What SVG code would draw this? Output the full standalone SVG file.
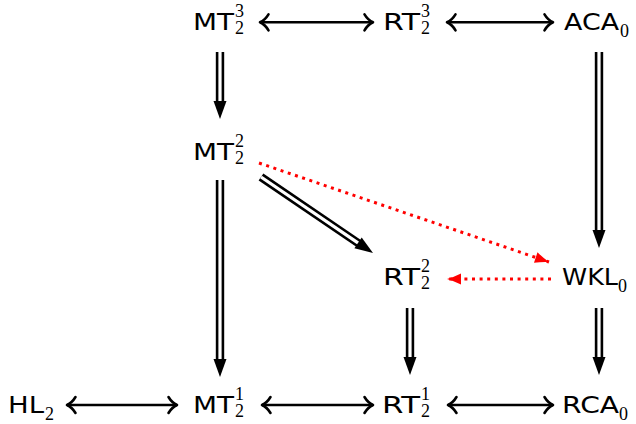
<svg xmlns="http://www.w3.org/2000/svg" width="636" height="424" viewBox="0 0 636 424">
  <style>
    .lbl { font-family: "DejaVu Sans", "Liberation Sans", sans-serif; font-size: 23.5px; fill: #000; }
    .scr { font-family: "Liberation Serif", "DejaVu Serif", serif; font-size: 18px; fill: #000; }
    .bi { stroke: #000; stroke-width: 2.5; fill: none; marker-start: url(#to); marker-end: url(#to); }
    .shaft-o { stroke: #000; stroke-width: 8.4; fill: none; }
    .shaft-i { stroke: #fff; stroke-width: 3.2; fill: none; }
    .head { fill: #000; }
    .dot { stroke: #ff0000; stroke-width: 3; stroke-dasharray: 3 4.6; fill: none; marker-end: url(#redhead); }
  </style>
  <defs>
    <marker id="to" markerUnits="userSpaceOnUse" viewBox="-12 -10 14 20" markerWidth="14" markerHeight="20" refX="0" refY="0" orient="auto-start-reverse" overflow="visible">
      <path d="M-8.5,-8 Q-5,-2.2 0,0 Q-5,2.2 -8.5,8" fill="none" stroke="#000" stroke-width="2.6" stroke-linecap="round" stroke-linejoin="round"/>
    </marker>
    <marker id="redhead" markerUnits="userSpaceOnUse" viewBox="-16 -8 18 16" markerWidth="18" markerHeight="16" refX="0" refY="0" orient="auto" overflow="visible">
      <path d="M0,0 Q-7,-2 -14,-5.5 L-14,5.5 Q-7,2 0,0 Z" fill="#ff0000"/>
    </marker>
  </defs>

  <!-- row 1 -->
  <g id="MT23">
    <text class="lbl" x="193" y="29.5" textLength="41" lengthAdjust="spacingAndGlyphs">MT</text>
    <text class="scr" x="235" y="16.5">3</text>
    <text class="scr" x="235" y="33.5">2</text>
  </g>
  <g id="RT23">
    <text class="lbl" x="383" y="29.5" textLength="37" lengthAdjust="spacingAndGlyphs">RT</text>
    <text class="scr" x="421" y="16.5">3</text>
    <text class="scr" x="421" y="33.5">2</text>
  </g>
  <g id="ACA0">
    <text class="lbl" x="564" y="29.5" textLength="55" lengthAdjust="spacingAndGlyphs">ACA</text>
    <text class="scr" x="620" y="36.5">0</text>
  </g>

  <!-- row 2 -->
  <g id="MT22">
    <text class="lbl" x="193" y="160" textLength="41" lengthAdjust="spacingAndGlyphs">MT</text>
    <text class="scr" x="235" y="147">2</text>
    <text class="scr" x="235" y="164">2</text>
  </g>

  <!-- row 3 -->
  <g id="RT22">
    <text class="lbl" x="383" y="285" textLength="37" lengthAdjust="spacingAndGlyphs">RT</text>
    <text class="scr" x="421" y="272">2</text>
    <text class="scr" x="421" y="289">2</text>
  </g>
  <g id="WKL0">
    <text class="lbl" x="562" y="285" textLength="56" lengthAdjust="spacingAndGlyphs">WKL</text>
    <text class="scr" x="618" y="292">0</text>
  </g>

  <!-- row 4 -->
  <g id="HL2">
    <text class="lbl" x="8" y="413" textLength="36" lengthAdjust="spacingAndGlyphs">HL</text>
    <text class="scr" x="45" y="420">2</text>
  </g>
  <g id="MT21">
    <text class="lbl" x="193" y="413" textLength="41" lengthAdjust="spacingAndGlyphs">MT</text>
    <text class="scr" x="235" y="400">1</text>
    <text class="scr" x="235" y="417">2</text>
  </g>
  <g id="RT21">
    <text class="lbl" x="382" y="413" textLength="38" lengthAdjust="spacingAndGlyphs">RT</text>
    <text class="scr" x="421" y="400">1</text>
    <text class="scr" x="421" y="417">2</text>
  </g>
  <g id="RCA0">
    <text class="lbl" x="562" y="413" textLength="57" lengthAdjust="spacingAndGlyphs">RCA</text>
    <text class="scr" x="619" y="420">0</text>
  </g>

  <g id="connectors">
    <!-- equivalences -->
    <line class="bi" x1="260" y1="22.3" x2="373" y2="22.3"/>
    <line class="bi" x1="447" y1="22.3" x2="553" y2="22.3"/>
    <line class="bi" x1="67" y1="405" x2="177" y2="405"/>
    <line class="bi" x1="262" y1="405" x2="373" y2="405"/>
    <line class="bi" x1="448" y1="405" x2="553" y2="405"/>

    <!-- implications (double shafts) -->
    <g>
      <line class="shaft-o" x1="220" y1="52" x2="220" y2="103"/>
      <line class="shaft-i" x1="220" y1="52" x2="220" y2="104"/>
      <polygon class="head" points="213.5,101 226.5,101 220,119"/>
    </g>
    <g>
      <line class="shaft-o" x1="599" y1="52" x2="599" y2="232"/>
      <line class="shaft-i" x1="599" y1="52" x2="599" y2="233"/>
      <polygon class="head" points="592.5,230 605.5,230 599,248"/>
    </g>
    <g>
      <line class="shaft-o" x1="220" y1="180" x2="220" y2="361"/>
      <line class="shaft-i" x1="220" y1="180" x2="220" y2="362"/>
      <polygon class="head" points="213.5,359 226.5,359 220,377"/>
    </g>
    <g>
      <line class="shaft-o" x1="410" y1="308" x2="410" y2="359"/>
      <line class="shaft-i" x1="410" y1="308" x2="410" y2="360"/>
      <polygon class="head" points="403.5,357 416.5,357 410,375"/>
    </g>
    <g>
      <line class="shaft-o" x1="599" y1="308" x2="599" y2="359"/>
      <line class="shaft-i" x1="599" y1="308" x2="599" y2="360"/>
      <polygon class="head" points="592.5,357 605.5,357 599,375"/>
    </g>
    <g>
      <line class="shaft-o" x1="261" y1="177" x2="359.7" y2="244.1"/>
      <line class="shaft-i" x1="261" y1="177" x2="360.5" y2="244.6"/>
      <polygon class="head" points="354.4,248.3 361.7,237.6 373,253"/>
    </g>

    <!-- non-implications (dotted) -->
    <line class="dot" x1="259" y1="163" x2="549" y2="262"/>
    <line class="dot" x1="551" y1="279" x2="447" y2="279"/>
  </g>
</svg>
